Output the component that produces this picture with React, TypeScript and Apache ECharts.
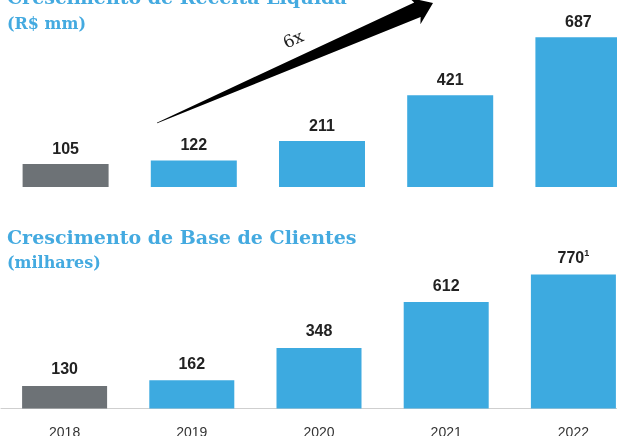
import React, { useEffect, useRef } from "react";
import * as echarts from "echarts";

const years = ["2018", "2019", "2020", "2021", "2022"];
const revenue = [105, 122, 211, 421, 687];
const clients = [130, 162, 348, 612, 770];
const clientNotes = ["", "", "", "", "1"];

const titleRevenue = "Crescimento de Receita Líquida";
const subtitleRevenue = "(R$ mm)";
const titleClients = "Crescimento de Base de Clientes";
const subtitleClients = "(milhares)";
const growthLabel = "6x";

const BLUE = "#3DAAE0";
const GRAY = "#6D7276";
const TITLE_BLUE = "#44AAE0";

export default function App() {
  const ref = useRef<HTMLDivElement>(null);

  useEffect(() => {
    if (!ref.current) return;
    const chart = echarts.init(ref.current, null, { renderer: "svg" });

    const S = [157, 123];
    const T = [433, 3];
    const dx = T[0] - S[0];
    const dy = T[1] - S[1];
    const L = Math.sqrt(dx * dx + dy * dy);
    const u = [dx / L, dy / L];
    const n = [-u[1], u[0]];
    const pt = (a: number, b: number) => [S[0] + a * u[0] + b * n[0], S[1] + a * u[1] + b * n[1]];
    const arrowPts = [
      pt(0, 0.4),
      pt(L - 17, 8),
      pt(L - 20, 14.5),
      pt(L, 0),
      pt(L - 20, -14.5),
      pt(L - 17, -8),
      pt(0, -0.4),
    ];

    const colorFn = (p: any) => (p.dataIndex === 0 ? GRAY : BLUE);
    const labelFont = {
      fontFamily: "Liberation Sans",
      fontWeight: "bold" as const,
      fontSize: 16,
      color: "#222",
    };

    chart.setOption({
      animation: false,
      grid: [
        { left: 1.5, width: 641, top: 12.6, height: 174.4, outerBoundsMode: "none", containLabel: false },
        { left: 1, width: 636, top: 269.3, height: 139.2, outerBoundsMode: "none", containLabel: false },
      ],
      xAxis: [
        {
          type: "category",
          gridIndex: 0,
          data: years,
          axisLine: { show: false },
          axisTick: { show: false },
          axisLabel: { show: false },
        },
        {
          type: "category",
          gridIndex: 1,
          data: years,
          axisLine: { show: true, lineStyle: { color: "#CFCFCF", width: 1 } },
          axisTick: { show: false },
          axisLabel: {
            margin: 16,
            fontFamily: "Liberation Sans",
            fontSize: 14,
            color: "#333",
          },
        },
      ],
      yAxis: [
        { type: "value", gridIndex: 0, min: 0, max: 800, show: false },
        { type: "value", gridIndex: 1, min: 0, max: 800, show: false },
      ],
      series: [
        {
          type: "bar",
          xAxisIndex: 0,
          yAxisIndex: 0,
          data: revenue,
          barWidth: 86,
          itemStyle: { color: colorFn },
          label: { show: true, position: "top", distance: 8, ...labelFont },
        },
        {
          type: "bar",
          xAxisIndex: 1,
          yAxisIndex: 1,
          data: clients,
          barWidth: 85,
          itemStyle: { color: colorFn },
          label: {
            show: true,
            position: "top",
            distance: 9,
            ...labelFont,
            formatter: (p: any) =>
              clientNotes[p.dataIndex]
                ? `{v|${p.value}}{s|${clientNotes[p.dataIndex]}}`
                : `{v|${p.value}}`,
            rich: {
              v: { ...labelFont },
              s: { ...labelFont, fontSize: 9, verticalAlign: "top", padding: [0, 0, 8, 0] },
            },
          },
        },
      ],
      graphic: [
        {
          type: "text",
          left: 7,
          top: -13,
          style: {
            text: titleRevenue,
            fontFamily: "DejaVu Serif",
            fontWeight: "bold",
            fontSize: 19,
            fill: TITLE_BLUE,
          },
        },
        {
          type: "text",
          left: 7,
          top: 15,
          style: {
            text: subtitleRevenue,
            fontFamily: "DejaVu Serif",
            fontWeight: "bold",
            fontSize: 16,
            fill: TITLE_BLUE,
          },
        },
        {
          type: "text",
          left: 7,
          top: 227,
          style: {
            text: titleClients,
            fontFamily: "DejaVu Serif",
            fontWeight: "bold",
            fontSize: 19,
            fill: TITLE_BLUE,
          },
        },
        {
          type: "text",
          left: 7,
          top: 254,
          style: {
            text: subtitleClients,
            fontFamily: "DejaVu Serif",
            fontWeight: "bold",
            fontSize: 16,
            fill: TITLE_BLUE,
          },
        },
        {
          type: "polygon",
          shape: { points: arrowPts },
          style: { fill: "#000" },
        },
        {
          type: "text",
          x: 293,
          y: 39,
          rotation: 0.42,
          style: {
            text: growthLabel,
            fontFamily: "DejaVu Serif",
            fontSize: 17,
            fill: "#222",
            align: "center",
            verticalAlign: "middle",
          },
        },
      ],
    });

    return () => chart.dispose();
  }, []);

  return (
    <div
      ref={ref}
      style={{ position: "fixed", left: 0, top: 0, width: 617, height: 436 }}
    />
  );
}
